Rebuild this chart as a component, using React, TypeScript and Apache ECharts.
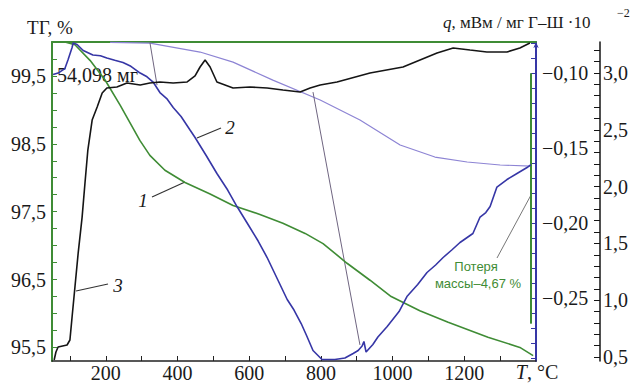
import React, { useEffect, useRef } from "react";
import * as echarts from "echarts";

// ---- axis ticks & labels ----
const xTickValues = [100, 200, 300, 400, 500, 600, 700, 800, 900, 1000, 1100, 1200, 1300];
const xLabelValues = [200, 400, 600, 800, 1000, 1200];
const tgTickValues = [95.5, 95.75, 96, 96.25, 96.5, 96.75, 97, 97.25, 97.5, 97.75, 98, 98.25, 98.5, 98.75, 99, 99.25, 99.5, 99.75];
const tgLabelValues = [95.5, 96.5, 97.5, 98.5, 99.5];
const qTickValues = [-0.29, -0.28, -0.27, -0.26, -0.25, -0.24, -0.23, -0.22, -0.21, -0.2, -0.19, -0.18, -0.17, -0.16, -0.15, -0.14, -0.13, -0.12, -0.11, -0.1, -0.09, -0.08];
const qLabelValues = [-0.25, -0.2, -0.15, -0.1];
const gsTickValues = [0.5, 0.6, 0.7, 0.8, 0.9, 1, 1.1, 1.2, 1.3, 1.4, 1.5, 1.6, 1.7, 1.8, 1.9, 2, 2.1, 2.2, 2.3, 2.4, 2.5, 2.6, 2.7, 2.8, 2.9, 3, 3.1, 3.2];
const gsLabelValues = [0.5, 1, 1.5, 2, 2.5, 3];

// ---- series (T °C, value) ----
const tgCurve = [
  [60, 100.0], [86, 100.0], [114, 99.96], [156, 99.73], [198, 99.44], [240, 99.07], [295, 98.55],
  [323, 98.33], [365, 98.11], [421, 97.93], [491, 97.76], [555, 97.59], [630, 97.46], [694, 97.33],
  [756, 97.18], [806, 97.03], [873, 96.74], [937, 96.49], [996, 96.25], [1076, 96.04], [1155, 95.87],
  [1266, 95.65], [1355, 95.5], [1392, 95.38],
];
const qCurve = [
  [53, -0.101], [67, -0.1], [86, -0.097], [95, -0.091], [106, -0.083], [109, -0.08], [120, -0.081],
  [137, -0.085], [164, -0.088], [185, -0.0885], [203, -0.09], [225, -0.0915], [248, -0.093], [270, -0.0955],
  [296, -0.1], [315, -0.1025], [332, -0.106], [351, -0.113], [370, -0.117],
  [388, -0.123], [410, -0.129], [435, -0.138], [449, -0.143], [480, -0.155], [510, -0.167], [540, -0.178],
  [566, -0.189], [602, -0.203], [625, -0.212], [650, -0.223], [680, -0.238],
  [706, -0.251], [725, -0.258], [745, -0.267], [760, -0.275], [778, -0.285], [803, -0.291], [839, -0.291],
  [867, -0.29], [890, -0.287], [904, -0.285], [915, -0.282], [920, -0.279], [926, -0.286], [945, -0.281],
  [959, -0.276], [985, -0.269], [1018, -0.259], [1040, -0.249], [1070, -0.241],
  [1096, -0.233], [1120, -0.228], [1141, -0.223], [1165, -0.218], [1188, -0.213], [1224, -0.207],
  [1244, -0.196], [1260, -0.193], [1272, -0.189], [1291, -0.176], [1319, -0.171], [1347, -0.167],
  [1375, -0.163], [1386, -0.161],
];
const qBaseline = [
  [212, -0.0795], [323, -0.08], [463, -0.086], [555, -0.0927], [666, -0.1047], [798, -0.118],
  [909, -0.1313], [1021, -0.148], [1118, -0.156], [1208, -0.1593], [1300, -0.1613], [1386, -0.162],
];
const gsCurve = [
  [56, 0.474], [61, 0.544], [67, 0.588], [92, 0.606], [100, 0.65], [106, 0.852], [114, 1.116],
  [123, 1.415], [134, 1.732], [142, 2.032], [150, 2.322], [162, 2.586], [176, 2.701], [190, 2.824],
  [203, 2.868], [231, 2.877], [259, 2.912], [296, 2.894], [323, 2.912], [351, 2.921], [388, 2.912],
  [427, 2.921], [449, 2.974], [463, 3.053], [477, 3.114], [491, 3.053], [510, 2.921], [555, 2.868],
  [602, 2.877], [650, 2.868], [694, 2.85], [742, 2.833], [770, 2.868], [798, 2.894], [845, 2.921],
  [937, 3.0], [1029, 3.053], [1124, 3.176], [1169, 3.22], [1216, 3.202], [1263, 3.185], [1319, 3.185],
  [1355, 3.22], [1383, 3.264],
];
const tangentGs = [[323, 3.27], [343, 2.894]];
const tangentQ = [[778, -0.1127], [909, -0.2813]];
const massLossMarker = [[1386, 99.54], [1386, 95.85]];

const GREEN = "#3f8c35";
const BLUE = "#3636a6";
const PURPLE = "#8d84d4";
const BLACK = "#151515";
const SERIF = "Liberation Serif";
const SANS = "Liberation Sans";

const comma = (d: number) => (v: number) => v.toFixed(d).replace(".", ",").replace("-", "\u2212");

export default function App() {
  const ref = useRef<HTMLDivElement>(null);
  useEffect(() => {
    document.body.style.margin = "0";
    const chart = echarts.init(ref.current!, null, { renderer: "svg" });
    const labelStyle = { fontFamily: SERIF, fontSize: 20, color: "#1a1a1a" };
    const lineSeries = (data: number[][], yAxisIndex: number, color: string, width: number) => ({
      type: "line",
      data,
      yAxisIndex,
      showSymbol: false,
      symbol: "none",
      lineStyle: { color, width },
      silent: true,
      clip: false,
    });
    chart.setOption({
      animation: false,
      textStyle: { fontFamily: SERIF },
      grid: { left: 52, right: 99, top: 42, bottom: 23 },
      xAxis: [
        {
          type: "value", min: 50, max: 1400, position: "bottom",
          axisLine: { show: true, lineStyle: { color: "#222", width: 1.5 } },
          axisTick: { show: true, inside: true, length: 5, customValues: xTickValues, lineStyle: { color: "#222" } },
          axisLabel: { ...labelStyle, margin: 2, customValues: xLabelValues, formatter: (v: number) => String(v) },
          splitLine: { show: false },
        },
        {
          type: "value", min: 50, max: 1400, position: "top",
          axisLine: { show: true, lineStyle: { color: GREEN, width: 2 } },
          axisTick: { show: false }, axisLabel: { show: false }, splitLine: { show: false },
        },
      ],
      yAxis: [
        {
          type: "value", min: 95.3, max: 100, position: "left",
          axisLine: { show: true, lineStyle: { color: GREEN, width: 2 } },
          axisTick: { show: true, inside: true, length: 5, customValues: tgTickValues, lineStyle: { color: GREEN } },
          axisLabel: { ...labelStyle, margin: 6, customValues: tgLabelValues, formatter: comma(1) },
          splitLine: { show: false },
        },
        {
          type: "value", min: -0.292, max: -0.0793, position: "right", offset: 0,
          axisLine: { show: true, symbol: ["none", "arrow"], symbolSize: [4, 6], lineStyle: { color: BLUE, width: 2 } },
          axisTick: { show: true, inside: true, length: 5, customValues: qTickValues, lineStyle: { color: BLUE } },
          axisLabel: { ...labelStyle, margin: 6, customValues: qLabelValues, formatter: comma(2) },
          splitLine: { show: false },
        },
        {
          type: "value", min: 0.465, max: 3.273, position: "right", offset: 64,
          axisLine: { show: true, lineStyle: { color: BLACK, width: 1.5 } },
          axisTick: { show: true, inside: true, length: 6, customValues: gsTickValues, lineStyle: { color: BLACK } },
          axisLabel: { ...labelStyle, margin: 3, customValues: gsLabelValues, formatter: comma(1) },
          splitLine: { show: false },
        },
      ],
      series: [
        lineSeries(qBaseline, 1, PURPLE, 1.2),
        lineSeries(tangentGs, 2, "#6f6580", 1),
        lineSeries(tangentQ, 1, "#6f6580", 1),
        lineSeries(massLossMarker, 0, GREEN, 2),
        lineSeries(tgCurve, 0, GREEN, 1.6),
        lineSeries(qCurve, 1, BLUE, 1.6),
        lineSeries(gsCurve, 2, BLACK, 1.6),
      ],
      graphic: [
        { type: "text", x: 50, y: 27, style: { text: "ТГ, %", fontFamily: SERIF, fontSize: 19, fill: "#1a1a1a", textAlign: "center", textVerticalAlign: "middle" } },
        { type: "text", x: 57, y: 75, style: { text: "54,098 мг", fontFamily: SERIF, fontSize: 20, fill: "#1a1a1a", textAlign: "left", textVerticalAlign: "middle" } },
        {
          type: "text", x: 443, y: 22,
          style: {
            text: "{i|q}, мВм / мг Г\u2013Ш ·10", fontFamily: SERIF, fontSize: 17, fill: "#1a1a1a", textAlign: "left", textVerticalAlign: "middle",
            rich: { i: { fontStyle: "italic", fontFamily: SERIF, fontSize: 17, fill: "#1a1a1a" } },
          },
        },
        { type: "text", x: 617, y: 13, style: { text: "\u22122", fontFamily: SERIF, fontSize: 12, fill: "#1a1a1a", textAlign: "left", textVerticalAlign: "middle" } },
        {
          type: "text", x: 537, y: 372,
          style: {
            text: "{i|T}, °C", fontFamily: SERIF, fontSize: 20, fill: "#1a1a1a", textAlign: "center", textVerticalAlign: "middle",
            rich: { i: { fontStyle: "italic", fontFamily: SERIF, fontSize: 20, fill: "#1a1a1a" } },
          },
        },
        { type: "text", x: 143, y: 200, style: { text: "1", fontFamily: SERIF, fontStyle: "italic", fontSize: 19, fill: "#1a1a1a", textAlign: "center", textVerticalAlign: "middle" } },
        { type: "line", shape: { x1: 152, y1: 197, x2: 185, y2: 182 }, style: { stroke: "#333", lineWidth: 1.2 } },
        { type: "text", x: 230, y: 127, style: { text: "2", fontFamily: SERIF, fontStyle: "italic", fontSize: 19, fill: "#1a1a1a", textAlign: "center", textVerticalAlign: "middle" } },
        { type: "line", shape: { x1: 197, y1: 138, x2: 221, y2: 128 }, style: { stroke: "#333", lineWidth: 1.2 } },
        { type: "text", x: 118, y: 285, style: { text: "3", fontFamily: SERIF, fontStyle: "italic", fontSize: 19, fill: "#1a1a1a", textAlign: "center", textVerticalAlign: "middle" } },
        { type: "line", shape: { x1: 76, y1: 291, x2: 108, y2: 284 }, style: { stroke: "#333", lineWidth: 1.2 } },
        { type: "line", shape: { x1: 531, y1: 195, x2: 497, y2: 258 }, style: { stroke: "#777", lineWidth: 1 } },
        { type: "text", x: 476, y: 266, style: { text: "Потеря", fontFamily: SANS, fontSize: 13, fill: GREEN, textAlign: "center", textVerticalAlign: "middle" } },
        { type: "text", x: 478, y: 283, style: { text: "массы\u20134,67 %", fontFamily: SANS, fontSize: 13, fill: GREEN, textAlign: "center", textVerticalAlign: "middle" } },
      ],
    });
    return () => chart.dispose();
  }, []);
  return <div ref={ref} style={{ width: 635, height: 384 }} />;
}
